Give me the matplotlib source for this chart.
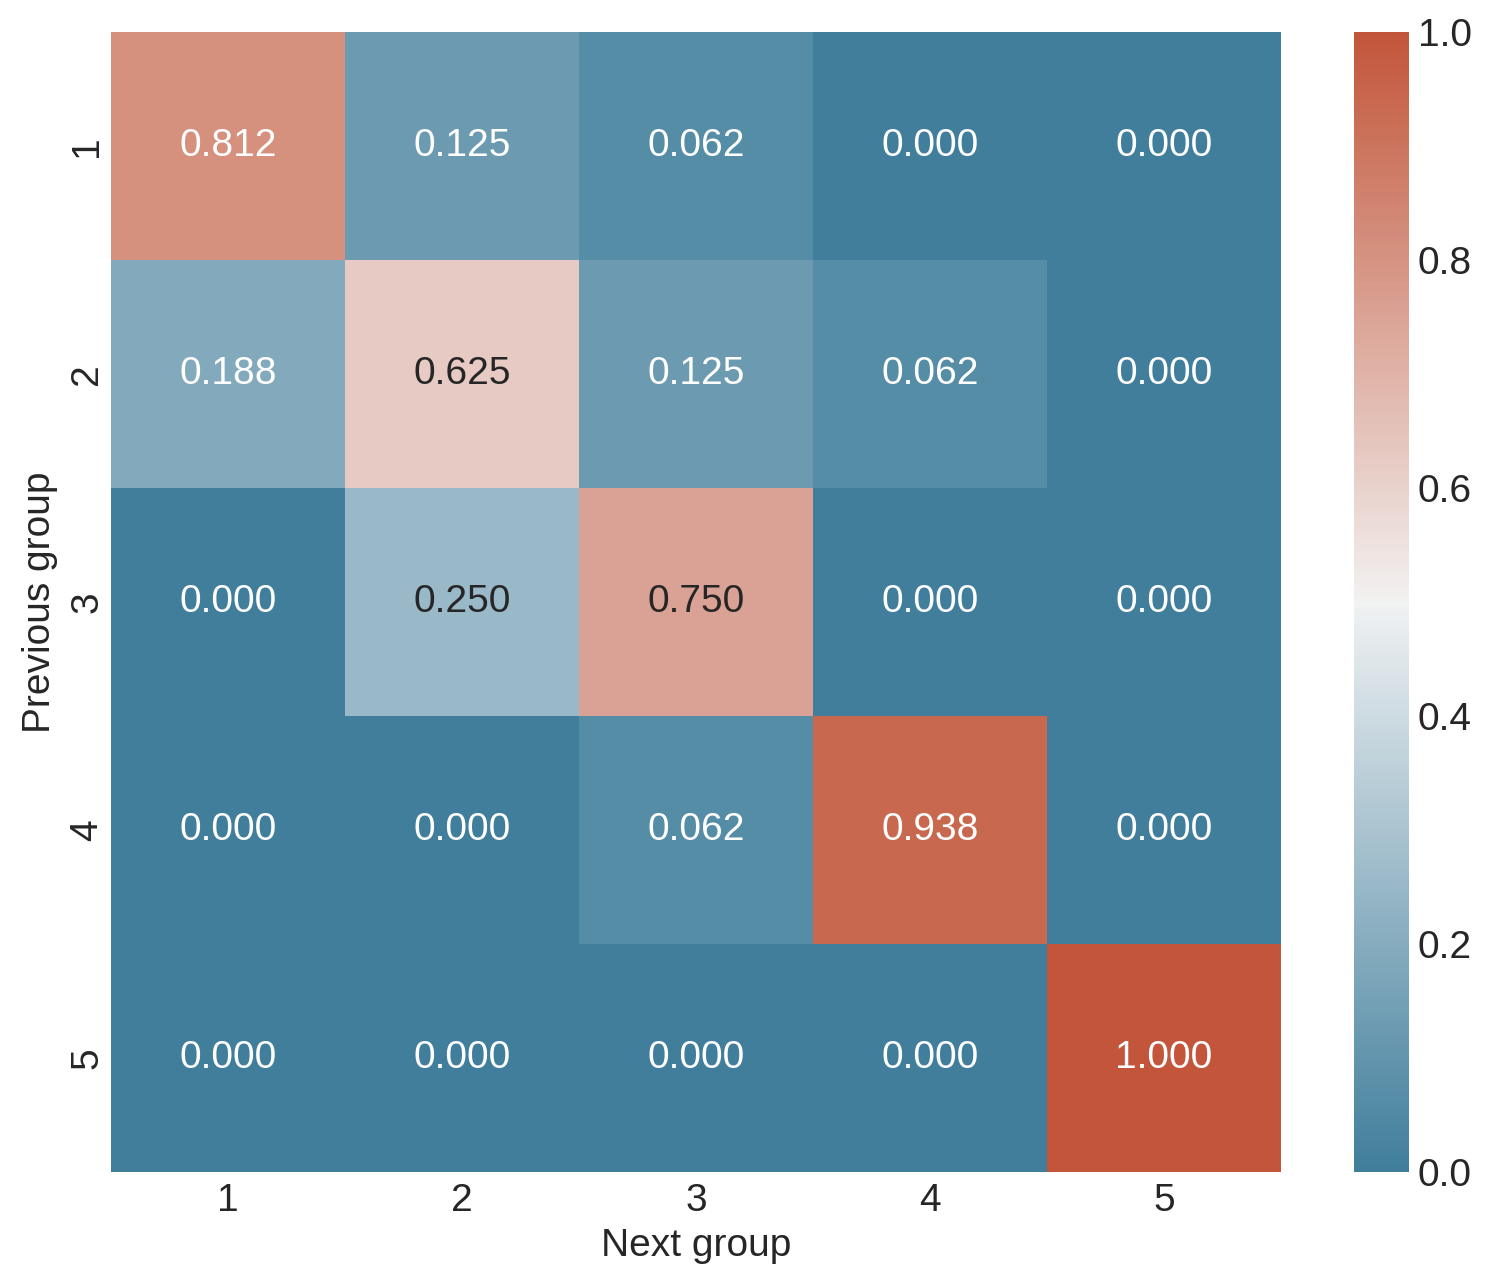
import numpy as np
import matplotlib
matplotlib.use("Agg")
import matplotlib.pyplot as plt
import seaborn as sns

# transition probabilities between groups
groups = ["1", "2", "3", "4", "5"]
row_1 = [0.812, 0.125, 0.062, 0.000, 0.000]
row_2 = [0.188, 0.625, 0.125, 0.062, 0.000]
row_3 = [0.000, 0.250, 0.750, 0.000, 0.000]
row_4 = [0.000, 0.000, 0.062, 0.938, 0.000]
row_5 = [0.000, 0.000, 0.000, 0.000, 1.000]

sns.set_style("white")
plt.rcParams['font.family'] = ['Liberation Sans', 'DejaVu Sans']

mat = np.array([row_1, row_2, row_3, row_4, row_5])
cmap = sns.diverging_palette(230, 20, as_cmap=True)

fig = plt.figure(figsize=(7.47, 6.42), dpi=200)
ax = fig.add_axes([0.0743, 0.087, 0.783, 0.888])
cax = fig.add_axes([0.9063, 0.087, 0.037, 0.888])
sns.heatmap(mat, cmap=cmap, annot=True, fmt=".3f", vmin=0, vmax=1,
            xticklabels=groups, yticklabels=groups, ax=ax, cbar_ax=cax,
            annot_kws={"size": 14})
ax.set_xlabel("Next group", fontsize=14, labelpad=3)
ax.set_ylabel("Previous group", fontsize=14, labelpad=4)
ax.tick_params(axis="x", labelsize=14, length=0, pad=4)
ax.tick_params(axis="y", labelsize=14, length=0, pad=2)
cax.tick_params(labelsize=14, length=0, pad=3)
for s in cax.spines.values():
    s.set_visible(False)
fig.savefig("out.png", dpi=200)
